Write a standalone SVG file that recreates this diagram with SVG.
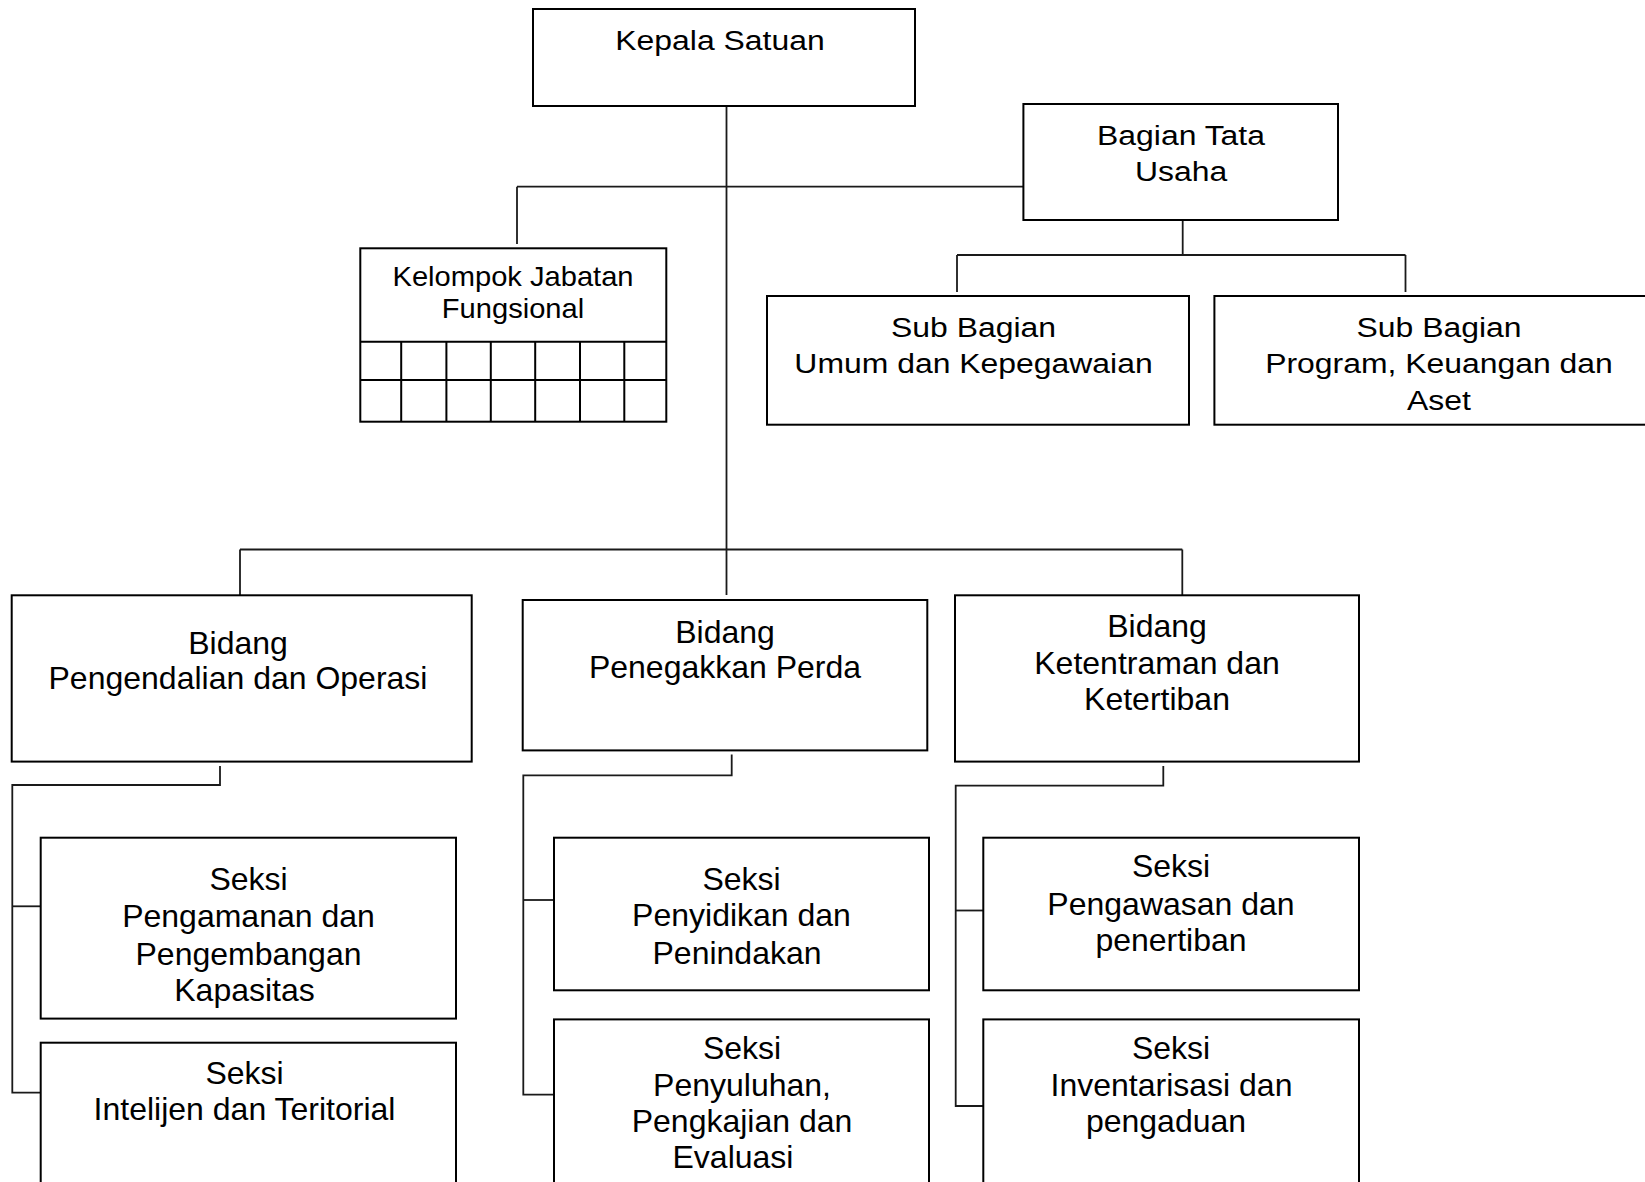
<svg xmlns="http://www.w3.org/2000/svg" width="1645" height="1182" viewBox="0 0 1645 1182">
<style>
.box{fill:#fff;stroke:#000;stroke-width:2}
.grid{fill:none;stroke:#000;stroke-width:2}
.conn{fill:none;stroke:#1a1a1a;stroke-width:1.8}
text{font-family:"Liberation Sans",Arial,sans-serif;text-anchor:middle;fill:#000}
.f32{font-size:32px}
.f28{font-size:28px}
</style>
<rect width="1645" height="1182" fill="#fff"/>
<g id="connectors">
<path class="conn" d="M726.5 103 V595"/>
<path class="conn" d="M517 186.7 H1023"/>
<path class="conn" d="M517 186.7 V244"/>
<path class="conn" d="M1182.7 220 V255"/>
<path class="conn" d="M957 255 H1405.5"/>
<path class="conn" d="M957 255 V292"/>
<path class="conn" d="M1405.5 255 V292"/>
<path class="conn" d="M240 549.5 H1182.3"/>
<path class="conn" d="M240 549.5 V596"/>
<path class="conn" d="M1182.3 549.5 V596"/>
<path class="conn" d="M220 766 V785 H12.3 V1092.6 H40.7"/>
<path class="conn" d="M12.3 906.3 H40.7"/>
<path class="conn" d="M731.7 754.5 V775.3 H523.3 V1094.7 H554"/>
<path class="conn" d="M523.3 900 H554"/>
<path class="conn" d="M1163.3 766 V785.7 H955.7 V1106 H983.3"/>
<path class="conn" d="M955.7 910.5 H983.3"/>
</g>
<g id="kepala-satuan">
<rect class="box" x="533" y="9" width="382" height="97"/>
<text class="f28" transform="translate(720 0) scale(1.14 1)" x="0" y="50">Kepala Satuan</text>
</g>
<g id="kelompok-jabatan-fungsional">
<rect class="box" x="360.3" y="248.3" width="306" height="173.4"/>
<path class="grid" d="M360.3 341.7 H666.3 M360.3 380 H666.3 M401.2 341.7 V421.7 M446.4 341.7 V421.7 M490.8 341.7 V421.7 M535.2 341.7 V421.7 M580 341.7 V421.7 M624.3 341.7 V421.7"/>
<g class="f28" transform="translate(513 0) scale(1.04 1)">
<text x="0" y="286">Kelompok Jabatan</text>
<text x="0" y="318">Fungsional</text>
</g>
</g>
<g id="bagian-tata-usaha">
<rect class="box" x="1023.4" y="104" width="314.6" height="116"/>
<g class="f28" transform="translate(1181 0) scale(1.14 1)">
<text x="0" y="145">Bagian Tata</text>
<text x="0" y="181">Usaha</text>
</g>
</g>
<g id="sub-bagian-umum">
<rect class="box" x="767" y="296" width="422" height="128.7"/>
<g class="f28" transform="translate(973.5 0) scale(1.14 1)">
<text x="0" y="337">Sub Bagian</text>
<text x="0" y="373">Umum dan Kepegawaian</text>
</g>
</g>
<g id="sub-bagian-program">
<rect class="box" x="1214.4" y="296" width="450" height="128.7"/>
<g class="f28" transform="translate(1439 0) scale(1.14 1)">
<text x="0" y="337">Sub Bagian</text>
<text x="0" y="373">Program, Keuangan dan</text>
<text x="0" y="410">Aset</text>
</g>
</g>
<g id="bidang-pengendalian">
<rect class="box" x="11.7" y="595.3" width="460" height="166.3"/>
<text class="f32" x="238" y="654">Bidang</text>
<text class="f32" x="238" y="689">Pengendalian dan Operasi</text>
</g>
<g id="bidang-penegakkan">
<rect class="box" x="522.7" y="600" width="404.6" height="150.4"/>
<text class="f32" x="725" y="643">Bidang</text>
<text class="f32" x="725" y="678">Penegakkan Perda</text>
</g>
<g id="bidang-ketentraman">
<rect class="box" x="955" y="595.3" width="404" height="166.3"/>
<text class="f32" x="1157" y="637">Bidang</text>
<text class="f32" x="1157" y="673.5">Ketentraman dan</text>
<text class="f32" x="1157" y="710">Ketertiban</text>
</g>
<g id="seksi-pengamanan">
<rect class="box" x="40.7" y="837.7" width="415.3" height="180.9"/>
<text class="f32" x="248.5" y="890">Seksi</text>
<text class="f32" x="248.5" y="927">Pengamanan dan</text>
<text class="f32" x="248.5" y="964.5">Pengembangan</text>
<text class="f32" x="244.5" y="1001">Kapasitas</text>
</g>
<g id="seksi-intelijen">
<rect class="box" x="40.7" y="1042.7" width="415.3" height="170"/>
<text class="f32" x="244.5" y="1084">Seksi</text>
<text class="f32" x="244.5" y="1120">Intelijen dan Teritorial</text>
</g>
<g id="seksi-penyidikan">
<rect class="box" x="554" y="837.7" width="375" height="152.6"/>
<text class="f32" x="741.5" y="890">Seksi</text>
<text class="f32" x="741.5" y="926">Penyidikan dan</text>
<text class="f32" x="737" y="964">Penindakan</text>
</g>
<g id="seksi-penyuluhan">
<rect class="box" x="554" y="1019.4" width="375" height="190"/>
<text class="f32" x="742" y="1059">Seksi</text>
<text class="f32" x="742" y="1095.5">Penyuluhan,</text>
<text class="f32" x="742" y="1132">Pengkajian dan</text>
<text class="f32" x="733" y="1168.3">Evaluasi</text>
</g>
<g id="seksi-pengawasan">
<rect class="box" x="983.3" y="837.7" width="375.7" height="152.6"/>
<text class="f32" x="1171" y="877">Seksi</text>
<text class="f32" x="1171" y="914.6">Pengawasan dan</text>
<text class="f32" x="1171" y="951">penertiban</text>
</g>
<g id="seksi-inventarisasi">
<rect class="box" x="983.3" y="1019.4" width="375.7" height="190"/>
<text class="f32" x="1171" y="1059">Seksi</text>
<text class="f32" x="1171.5" y="1095.5">Inventarisasi dan</text>
<text class="f32" x="1166" y="1132">pengaduan</text>
</g>
</svg>
